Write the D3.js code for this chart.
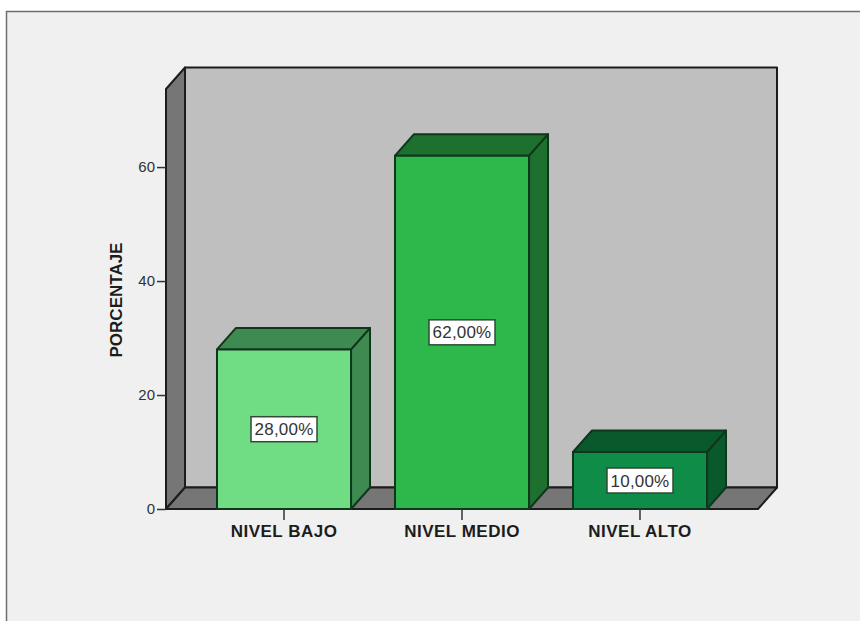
<!DOCTYPE html>
<html>
<head>
<meta charset="utf-8">
<script src="https://cdn.jsdelivr.net/npm/d3@7"></script>
<style>
	html, body { margin: 0; padding: 0; background: #fff; }
	svg { display: block; }
	text { font-family: "Liberation Sans", Arial, sans-serif; }
</style>
</head>
<body>
<script>
var categories = ["NIVEL BAJO", "NIVEL MEDIO", "NIVEL ALTO"];
var percentages = [28, 62, 10];
var valueLabels = ["28,00%", "62,00%", "10,00%"];
var yTicks = [0, 20, 40, 60];
var yTitle = "PORCENTAJE";
var yMax = 73.7;

// front, side and top faces of each bar
var barFront = ["#70dc84", "#2eb84c", "#0f8c47"];
var barSide = ["#3f8a50", "#1d702e", "#09592c"];

var W = 860, H = 621;
var depthX = 19, depthY = -21.5;
var outline = "#1c1c1c";
var barOutline = "#10361c";

var svg = d3.select("body").append("svg")
	.attr("width", W)
	.attr("height", H);

//PANEL BEHIND THE CHART
svg.append("rect")
	.attr("x", 6.5)
	.attr("y", 11.5)
	.attr("width", W)
	.attr("height", H)
	.style("fill", "#f0f0f0")
	.style("stroke", "#6e6e6e")
	.style("stroke-width", 1.5);

var x = d3.scaleBand()
	.domain(categories)
	.range([166, 758])
	.paddingInner(0.247)
	.paddingOuter(0.2865);

var y = d3.scaleLinear()
	.domain([0, yMax])
	.range([509, 89]);

function poly(points, fill, stroke) {
	svg.append("polygon")
		.attr("points", points.map(function(p) { return p.join(","); }).join(" "))
		.style("fill", fill)
		.style("stroke", stroke)
		.style("stroke-width", 2)
		.style("stroke-linejoin", "round");
}

//THE 3D BOX: SIDE WALL, BACK WALL, FLOOR
var left = x.range()[0], right = x.range()[1];
var y0 = y(0), yTop = y(yMax);

poly([[left, y0], [left, yTop], [left + depthX, yTop + depthY], [left + depthX, y0 + depthY]], "#767676", outline);
poly([[left + depthX, yTop + depthY], [right + depthX, yTop + depthY], [right + depthX, y0 + depthY], [left + depthX, y0 + depthY]], "#bfbfbf", outline);
poly([[left, y0], [left + depthX, y0 + depthY], [right + depthX, y0 + depthY], [right, y0]], "#767676", outline);

//THE BARS
categories.forEach(function(c, i) {
	var x1 = x(c), x2 = x(c) + x.bandwidth();
	var yv = y(percentages[i]);

	poly([[x2, y0], [x2, yv], [x2 + depthX, yv + depthY], [x2 + depthX, y0 + depthY]], barSide[i], barOutline);
	poly([[x1, yv], [x1 + depthX, yv + depthY], [x2 + depthX, yv + depthY], [x2, yv]], barSide[i], barOutline);
	poly([[x1, y0], [x1, yv], [x2, yv], [x2, y0]], barFront[i], barOutline);
});

//THE AXES
var yAxis = svg.append("g")
	.attr("transform", "translate(" + left + ",0)")
	.call(d3.axisLeft(y).tickValues(yTicks).tickSize(9).tickPadding(2));

yAxis.select(".domain").remove();
yAxis.selectAll("line").style("stroke", "#333").style("stroke-width", 1.5);
yAxis.selectAll("text")
	.style("font-size", "15px")
	.style("font-family", "'Liberation Sans', Arial, sans-serif")
	.style("fill", "#333");

var xAxis = svg.append("g")
	.attr("transform", "translate(0," + y0 + ")")
	.call(d3.axisBottom(x).tickSize(11).tickPadding(5));

xAxis.select(".domain").remove();
xAxis.selectAll("line").style("stroke", "#333").style("stroke-width", 1.5);
xAxis.selectAll("text")
	.style("font-size", "17px")
	.style("letter-spacing", "0.5px")
	.style("font-weight", "bold")
	.style("font-family", "'Liberation Sans', Arial, sans-serif")
	.style("fill", "#1c1c1c");

svg.append("text")
	.attr("transform", "translate(122,300) rotate(-90)")
	.attr("text-anchor", "middle")
	.style("font-size", "17px")
	.style("font-weight", "bold")
	.style("fill", "#1c1c1c")
	.text(yTitle);

//VALUE LABELS IN THE MIDDLE OF EACH BAR
var labels = svg.append("g").selectAll("g")
	.data(categories)
	.enter()
	.append("g")
	.attr("transform", function(d, i) {
		return "translate(" + (x(d) + x.bandwidth() / 2) + "," + y(percentages[i] / 2) + ")";
	});

labels.append("rect")
	.attr("x", -33)
	.attr("y", -12.5)
	.attr("width", 66)
	.attr("height", 25)
	.style("fill", "#fff")
	.style("stroke", "#2f4a36")
	.style("stroke-width", 1.5);

labels.append("text")
	.attr("text-anchor", "middle")
	.attr("dy", "0.36em")
	.style("font-size", "17px")
	.style("letter-spacing", "0.2px")
	.style("fill", "#333")
	.text(function(d, i) { return valueLabels[i]; });
</script>
</body>
</html>
